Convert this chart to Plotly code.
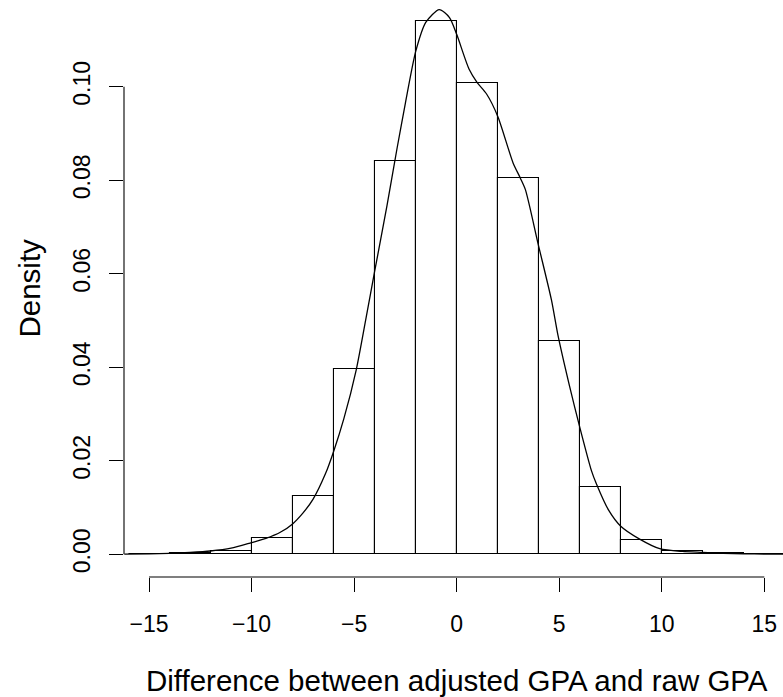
import plotly.graph_objects as go

# Histogram (density scale), bin breaks of width 2
breaks = [-16, -14, -12, -10, -8, -6, -4, -2, 0, 2, 4, 6, 8, 10, 12, 14, 16]
density = [0.0001, 0.0003, 0.0008, 0.0035, 0.0125, 0.0397, 0.0841, 0.1141,
           0.1007, 0.0805, 0.0456, 0.0144, 0.0030, 0.0007, 0.0002, 0.0001]

# Kernel density curve
kde_x = [-16.2, -15.0, -14.0, -13.0, -12.0, -11.0, -10.0, -9.3, -8.6, -8.0, -7.5,
         -7.0, -6.4, -6.0, -5.5, -4.9, -4.4, -4.0, -3.4, -2.9, -2.5, -2.0, -1.5,
         -0.85, -0.35, 0.0, 0.6, 1.0, 1.45, 2.0, 2.75, 3.1, 3.35, 3.97, 4.62,
         4.94, 5.5, 6.0, 6.57, 6.81, 7.4, 8.0, 8.9, 9.9, 11.0, 12.0, 13.0, 14.0,
         15.0, 16.2]
kde_y = [0.00005, 0.0001, 0.0002, 0.0004, 0.0007, 0.0013, 0.0025, 0.0034,
         0.0047, 0.0065, 0.0088, 0.0118, 0.0172, 0.0220, 0.0290, 0.0394,
         0.0510, 0.0605, 0.0745, 0.0870, 0.0965, 0.1075, 0.1138, 0.1165,
         0.1148, 0.1112, 0.1038, 0.1009, 0.0985, 0.0937, 0.0837, 0.0805,
         0.0780, 0.0664, 0.0544, 0.0468, 0.0360, 0.0272, 0.0179, 0.0151,
         0.0095, 0.0060, 0.0033, 0.0012, 0.0006, 0.0004, 0.0002, 0.0001,
         0.00005, 0.00003]

x_ticks = [-15, -10, -5, 0, 5, 10, 15]
x_tick_text = ["\u221215", "\u221210", "\u22125", "0", "5", "10", "15"]
y_ticks = [0.00, 0.02, 0.04, 0.06, 0.08, 0.10]
y_tick_text = ["0.00", "0.02", "0.04", "0.06", "0.08", "0.10"]

x_label = "Difference between adjusted GPA and raw GPA"
y_label = "Density"

centers = [(a + b) / 2 for a, b in zip(breaks[:-1], breaks[1:])]
widths = [b - a for a, b in zip(breaks[:-1], breaks[1:])]

FONT = "Liberation Sans, Arial, Helvetica, sans-serif"

fig = go.Figure()
fig.add_trace(go.Bar(
    x=centers, y=density, width=widths,
    marker=dict(color="white", line=dict(color="black", width=1.1)),
    showlegend=False, hoverinfo="skip",
))
fig.add_trace(go.Scatter(
    x=kde_x, y=kde_y, mode="lines",
    line=dict(color="black", width=1.3, shape="spline", smoothing=0.7),
    showlegend=False, hoverinfo="skip",
))

# R-style axis lines spanning only the tick range
fig.add_shape(type="line", xref="x", yref="paper",
              x0=x_ticks[0], x1=x_ticks[-1], y0=0, y1=0,
              line=dict(color="black", width=1.1))
fig.add_shape(type="line", xref="paper", yref="y",
              x0=0, x1=0, y0=y_ticks[0], y1=y_ticks[-1],
              line=dict(color="black", width=1.1))

fig.update_layout(
    width=783, height=697,
    margin=dict(l=124, r=0, t=0, b=120),
    paper_bgcolor="white", plot_bgcolor="white",
    font=dict(family=FONT, color="black", size=23),
    bargap=0,
    xaxis=dict(
        range=[-16.22, 15.91], showgrid=False, zeroline=False, showline=False,
        tickmode="array", tickvals=x_ticks, ticktext=x_tick_text,
        ticks="outside", ticklen=14, tickwidth=1.1, tickcolor="black",
        tickfont=dict(size=23), ticklabelstandoff=12,
    ),
    yaxis=dict(
        range=[-0.00486, 0.11855], showgrid=False, zeroline=False, showline=False,
        tickmode="array", tickvals=y_ticks, ticktext=y_tick_text,
        ticks="outside", ticklen=14, tickwidth=1.1, tickcolor="black",
        tickangle=-90, tickfont=dict(size=23), ticklabelstandoff=10,
    ),
    annotations=[
        dict(text=x_label, xref="x", yref="paper", x=0, y=0, yshift=-103,
             showarrow=False, xanchor="center", yanchor="middle",
             font=dict(size=29.5)),
        dict(text=y_label, xref="paper", yref="paper", x=0, y=0.5,
             xshift=-95, showarrow=False, textangle=-90,
             xanchor="center", yanchor="middle", font=dict(size=29.5)),
    ],
)

fig.write_html("out.html")
